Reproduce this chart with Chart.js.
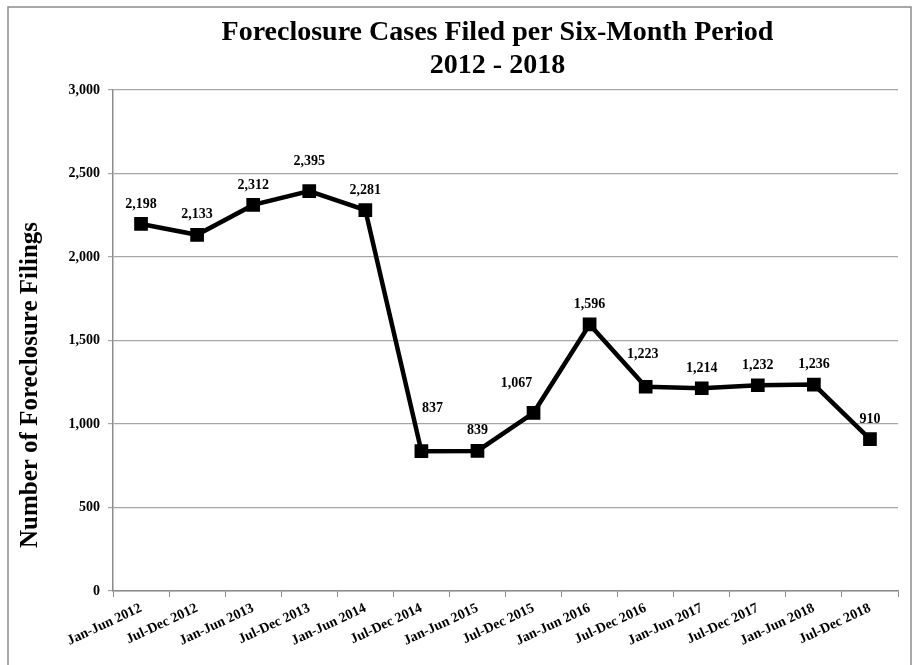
<!DOCTYPE html>
<html lang="en">
<head>
    <meta charset="UTF-8">
    <title>Foreclosure Cases Filed per Six-Month Period</title>
    <script src="https://cdn.jsdelivr.net/npm/chart.js"></script>
    <style>
        html, body { margin: 0; padding: 0; background: #fff; }
        #wrap { width: 919px; height: 665px; }
    </style>
</head>
<body>
    <div id="wrap">
        <canvas id="myChart" width="919" height="665"></canvas>
    </div>
<script>
    const periods = ['Jan-Jun 2012', 'Jul-Dec 2012', 'Jan-Jun 2013', 'Jul-Dec 2013', 'Jan-Jun 2014',
        'Jul-Dec 2014', 'Jan-Jun 2015', 'Jul-Dec 2015', 'Jan-Jun 2016', 'Jul-Dec 2016',
        'Jan-Jun 2017', 'Jul-Dec 2017', 'Jan-Jun 2018', 'Jul-Dec 2018'];
    const filings = [2198, 2133, 2312, 2395, 2281, 837, 839, 1067, 1596, 1223, 1214, 1232, 1236, 910];
    const yTicks = [0, 500, 1000, 1500, 2000, 2500, 3000];
    const titleLines = ['Foreclosure Cases Filed per Six-Month Period', '2012 - 2018'];

    // where a value label sits relative to its point (most are just above)
    const labelShift = { 3: [0, 30], 5: [11, 43], 7: [-17, 29], 9: [-3, 32] };

    const serif = '"Liberation Serif", "Times New Roman", serif';

    // outer frame, title over the plot area, rotated y title
    const framePlugin = {
        id: 'frame',
        beforeDraw(chart) {
            const ctx = chart.ctx;
            ctx.save();
            ctx.fillStyle = '#fff';
            ctx.fillRect(0, 0, chart.width, chart.height);
            ctx.strokeStyle = '#8c8c8c';
            ctx.lineWidth = 1.5;
            ctx.strokeRect(8, 7, 903, 700);
            ctx.restore();
        },
        afterDraw(chart) {
            const ctx = chart.ctx;
            const area = chart.chartArea;
            ctx.save();
            ctx.fillStyle = '#000';
            ctx.textAlign = 'center';
            ctx.textBaseline = 'middle';
            ctx.font = 'bold 28px ' + serif;
            const cx = (area.left + area.right) / 2 - 8;
            ctx.fillText(titleLines[0], cx, 33);
            ctx.fillText(titleLines[1], cx, 66);

            ctx.translate(31, 385);
            ctx.rotate(-Math.PI / 2);
            ctx.font = 'bold 25px ' + serif;
            ctx.fillText('Number of Foreclosure Filings', 0, 0);
            ctx.restore();
        }
    };

    const valueLabels = {
        id: 'valueLabels',
        afterDatasetsDraw(chart) {
            const ctx = chart.ctx;
            const meta = chart.getDatasetMeta(0);
            ctx.save();
            ctx.font = 'bold 14px ' + serif;
            ctx.fillStyle = '#000';
            ctx.textAlign = 'center';
            ctx.textBaseline = 'middle';
            meta.data.forEach((pt, i) => {
                const s = labelShift[i] || [0, 20];
                ctx.fillText(filings[i].toLocaleString('en-US'), pt.x + s[0], pt.y - s[1]);
            });
            ctx.restore();
        }
    };

    const data = {
        labels: periods,
        datasets: [{
            label: 'Foreclosure filings',
            data: filings,
            borderColor: '#000',
            backgroundColor: '#000',
            borderWidth: 4.5,
            pointStyle: 'rect',
            pointRadius: 6.5,
            pointHoverRadius: 6.5,
            tension: 0
        }]
    };

    const config = {
        type: 'line',
        data: data,
        plugins: [framePlugin, valueLabels],
        options: {
            responsive: false,
            animation: false,
            layout: { padding: { left: 0, right: 21, top: 90, bottom: 0 } },
            plugins: {
                legend: { display: false },
                tooltip: { enabled: false },
                title: { display: false }
            },
            scales: {
                x: {
                    offset: true,
                    grid: {
                        offset: true,
                        drawOnChartArea: false,
                        color: '#8c8c8c',
                        tickLength: 6
                    },
                    border: { color: '#8c8c8c', width: 1.5 },
                    ticks: {
                        color: '#000',
                        font: { family: serif, size: 14, weight: 'bold' },
                        minRotation: 25,
                        maxRotation: 25,
                        autoSkip: false,
                        padding: 3
                    },
                    afterFit(scale) { scale.height = 74; }
                },
                y: {
                    min: 0,
                    max: 3000,
                    afterBuildTicks(scale) { scale.ticks = yTicks.map(v => ({ value: v })); },
                    grid: { color: '#a6a6a6', tickLength: 5, lineWidth: 1.2 },
                    border: { color: '#8c8c8c', width: 1.5 },
                    ticks: {
                        color: '#000',
                        font: { family: serif, size: 14, weight: 'bold' },
                        padding: 8,
                        callback: v => v.toLocaleString('en-US')
                    },
                    afterFit(scale) { scale.width = 113; }
                }
            }
        }
    };

    const myChart = new Chart(document.querySelector('#myChart'), config);
</script>
</body>
</html>
